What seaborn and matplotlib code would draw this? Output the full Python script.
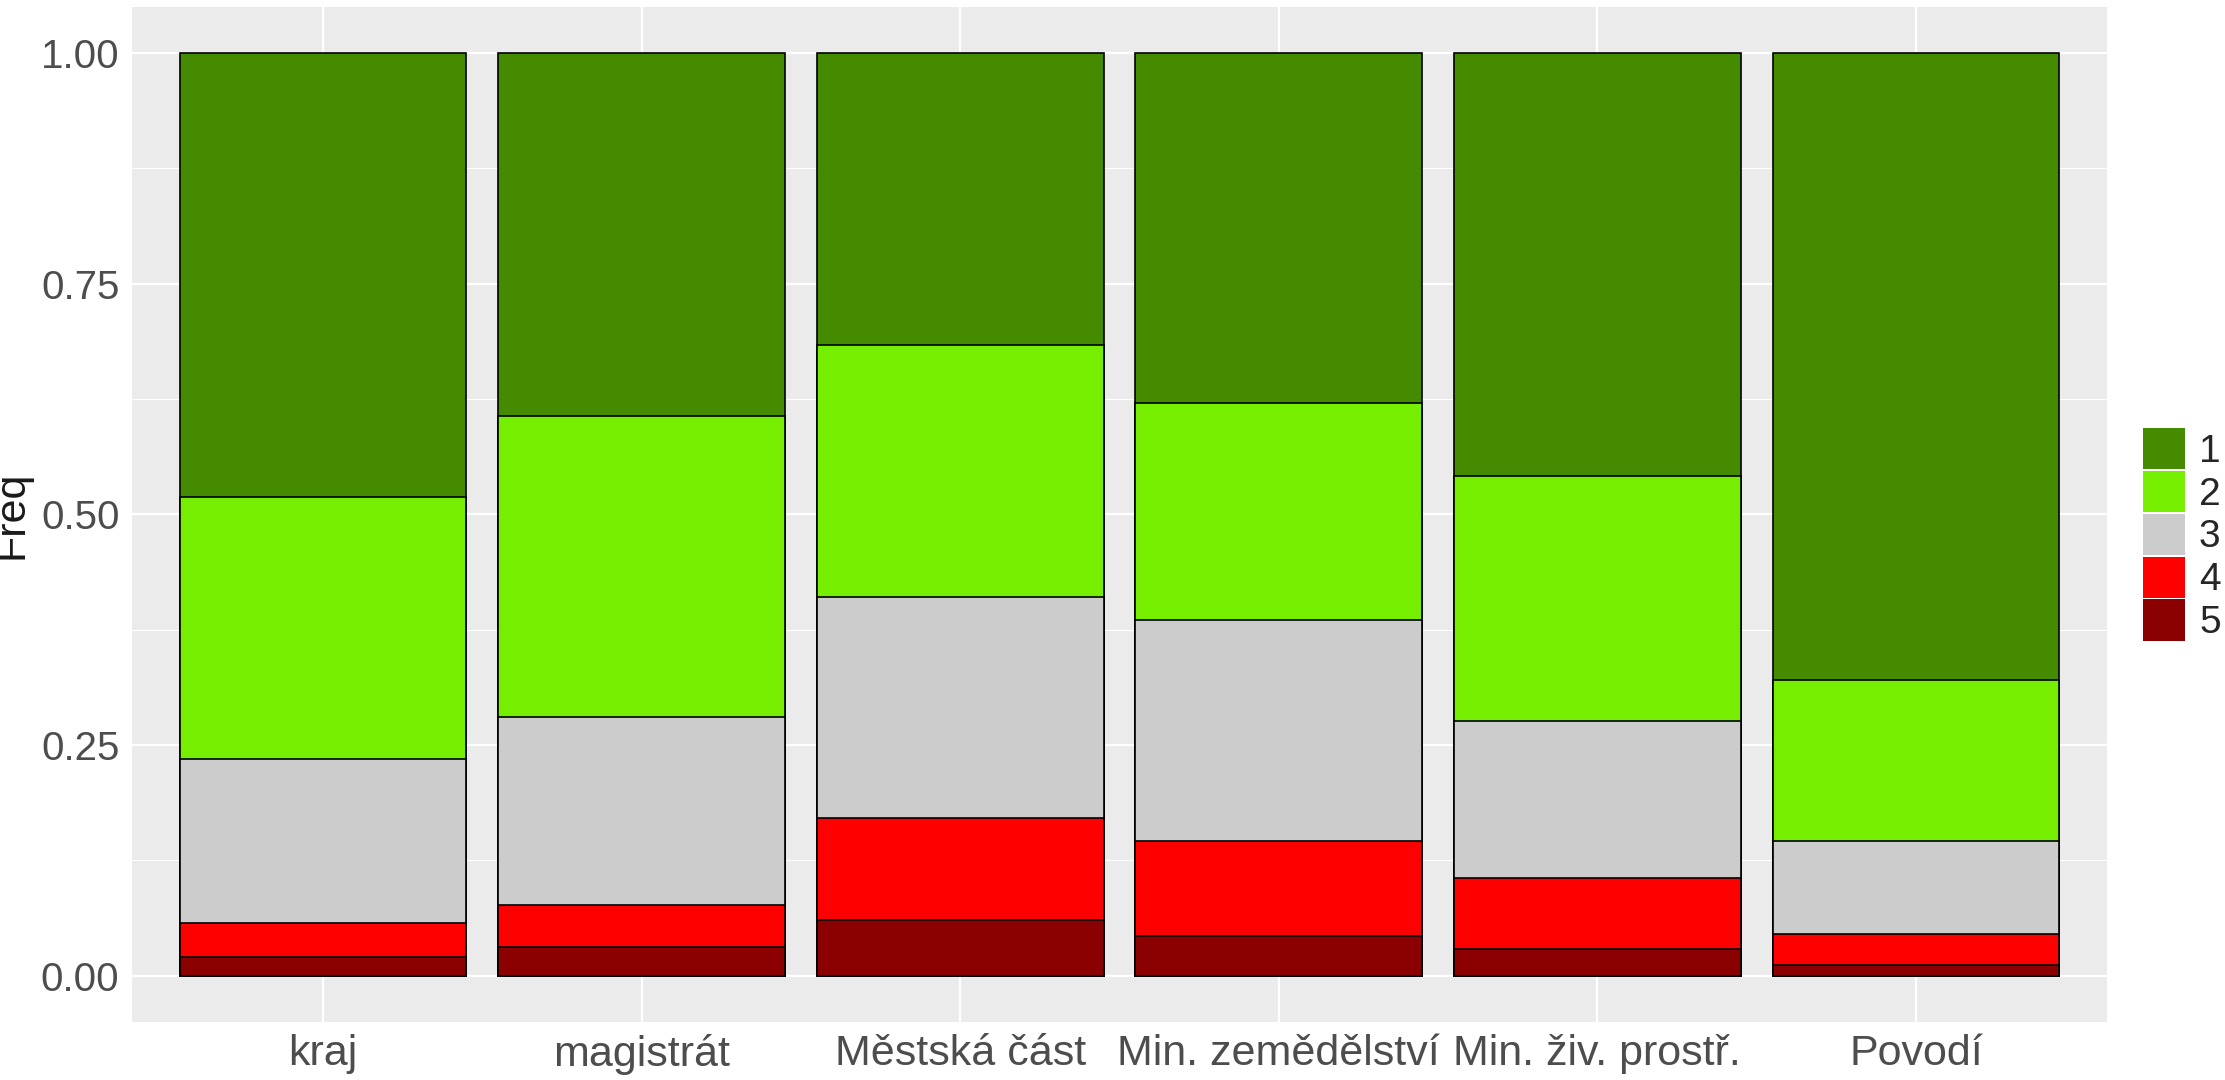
import numpy as np
import pandas as pd
import matplotlib
matplotlib.use("Agg")
import matplotlib.pyplot as plt
from matplotlib.patches import Patch
from matplotlib.ticker import MultipleLocator
import seaborn as sns

# proportions per category, levels 1..5 (5 is at the bottom of each bar)
categories = ["kraj", "magistrát", "Městská část", "Min. zemědělství",
              "Min. živ. prostř.", "Povodí"]
levels = ["1", "2", "3", "4", "5"]
freq_1 = [0.481, 0.393, 0.316, 0.379, 0.458, 0.680]
freq_2 = [0.284, 0.327, 0.274, 0.235, 0.266, 0.174]
freq_3 = [0.178, 0.203, 0.239, 0.240, 0.170, 0.101]
freq_4 = [0.037, 0.046, 0.111, 0.103, 0.077, 0.034]
freq_5 = [0.020, 0.031, 0.060, 0.043, 0.029, 0.011]
colors = ["#458B00", "#76EE00", "#CCCCCC", "#FF0000", "#8B0000"]

sns.set_theme(style="darkgrid")
plt.rcParams["font.family"] = ["Liberation Sans", "DejaVu Sans"]

df = pd.DataFrame({"cat": categories, "1": freq_1, "2": freq_2, "3": freq_3,
                   "4": freq_4, "5": freq_5})
# cumulative tops, stacked 5 (bottom) .. 1 (top)
cum = df[levels[::-1]].cumsum(axis=1)
cum["cat"] = df["cat"]

fig = plt.figure(figsize=(22.25, 10.8), dpi=100)
ax = fig.add_axes([0.0593, 0.054, 0.8877, 0.9395])
ax.set_facecolor("#EBEBEB")

for lev, col in zip(levels, colors):
    sns.barplot(data=cum, x="cat", y=lev, order=categories, color=col,
                width=0.9, edgecolor="black", linewidth=1.2, ax=ax,
                saturation=1)

ax.set_xlim(-0.6, len(categories) - 0.4)
ax.set_ylim(-0.05, 1.05)
ax.yaxis.set_minor_locator(MultipleLocator(0.125))
ax.set_yticks([0, 0.25, 0.5, 0.75, 1.0])
ax.set_yticklabels(["0.00", "0.25", "0.50", "0.75", "1.00"])
ax.grid(which="major", color="white", linewidth=1.6)
ax.grid(which="minor", axis="y", color="white", linewidth=0.8)
ax.set_axisbelow(True)
for s in ax.spines.values():
    s.set_visible(False)

ax.tick_params(axis="both", which="major", length=5, width=1.2, color="#333333",
               labelcolor="#4D4D4D", pad=4)
ax.tick_params(axis="x", which="major", labelsize=31)
ax.tick_params(axis="y", which="major", labelsize=29)
ax.tick_params(axis="both", which="minor", length=0)
ax.set_xlabel("")
ax.set_ylabel("Freq", fontsize=31, color="#1A1A1A", labelpad=2)
ax.yaxis.set_label_coords(-0.051, 0.5)

handles = [Patch(facecolor=c, edgecolor="none", label=l) for l, c in zip(levels, colors)]
leg = fig.legend(handles=handles, loc="center left", bbox_to_anchor=(0.956, 0.505),
                 frameon=False, fontsize=28, handlelength=1.1, handleheight=1.25,
                 labelspacing=0.03, handletextpad=0.35, borderaxespad=0)

fig.savefig("out.png", dpi=100)
